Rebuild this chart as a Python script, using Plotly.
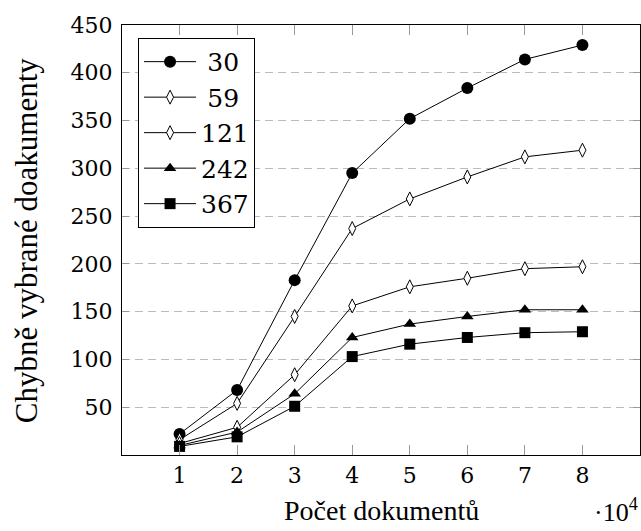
import plotly.graph_objects as go

# Number of documents (x 10^4)
docs = [1, 2, 3, 4, 5, 6, 7, 8]

# Wrongly selected documents per setting
s30 = [22, 68, 183, 295, 352, 384, 414, 429]
s59 = [16, 54, 145, 237, 268, 291, 312, 319]
s121 = [12, 29, 84, 156, 176, 185, 195, 197]
s242 = [10, 24, 64, 123, 137, 145, 152, 152]
s367 = [9, 19, 51, 103, 116, 123, 128, 129]

series_names = ["30", "59", "121", "242", "367"]
series_values = [s30, s59, s121, s242, s367]

y_ticks = [50, 100, 150, 200, 250, 300, 350, 400, 450]
x_ticks = [1, 2, 3, 4, 5, 6, 7, 8]

marker_styles = [
    dict(symbol="circle", size=12, color="black"),
    dict(symbol="diamond-tall", size=10, color="white", line=dict(color="black", width=1)),
    dict(symbol="diamond-tall", size=10, color="white", line=dict(color="black", width=1)),
    dict(symbol="triangle-up", size=11, color="black"),
    dict(symbol="square", size=11, color="black"),
]

SERIF = "'Liberation Serif', 'Times New Roman', serif"
TICK_SERIF = "'DejaVu Serif', serif"

fig = go.Figure()
for name, vals, mk in zip(series_names, series_values, marker_styles):
    label = name if len(name) == 3 else "\u2005" + name
    fig.add_trace(go.Scatter(
        x=docs, y=vals, name=label, mode="lines+markers",
        line=dict(color="black", width=1),
        marker=mk,
    ))

fig.update_layout(
    width=641, height=531,
    margin=dict(l=122, r=1, t=25, b=76),
    paper_bgcolor="white", plot_bgcolor="white",
    font=dict(family=SERIF, size=26, color="black"),
    showlegend=True,
    legend=dict(
        x=0.031, y=0.970, xanchor="left", yanchor="top",
        bgcolor="white", bordercolor="black", borderwidth=1,
        font=dict(family=TICK_SERIF, size=25),
        itemwidth=52,
        tracegroupgap=0,
    ),
    xaxis=dict(
        range=[0, 9], tickvals=x_ticks, ticktext=[str(t) for t in x_ticks],
        showgrid=False, zeroline=False,
        showline=True, linecolor="black", linewidth=1.2, mirror="ticks",
        ticks="inside", ticklen=10, tickcolor="#999999", tickwidth=1,
        tickfont=dict(family=TICK_SERIF, size=22),
        ticklabelstandoff=0,
    ),
    yaxis=dict(
        range=[0, 450], tickvals=y_ticks, ticktext=[str(t) for t in y_ticks],
        showgrid=True, gridcolor="#bbbbbb", gridwidth=1, griddash="8px,5px",
        zeroline=False,
        showline=True, linecolor="black", linewidth=1.2, mirror="ticks",
        ticks="inside", ticklen=7, tickcolor="#999999", tickwidth=1,
        tickfont=dict(family=TICK_SERIF, size=22),
        ticklabelstandoff=4,
    ),
    annotations=[
        dict(text="Počet dokumentů", xref="paper", yref="paper", x=0.5, y=-0.128,
             xanchor="center", yanchor="middle", showarrow=False,
             font=dict(family=SERIF, size=28)),
        dict(text="·10<sup>4</sup>", xref="paper", yref="paper", x=1.0, y=-0.128,
             xanchor="right", yanchor="middle", showarrow=False,
             font=dict(family=SERIF, size=26)),
        dict(text="Chybně vybrané doakumenty", xref="paper", yref="paper",
             x=-0.185, y=0.5, xanchor="center", yanchor="middle", textangle=-90,
             showarrow=False, font=dict(family=SERIF, size=31)),
    ],
)

fig.write_html("out.html")
